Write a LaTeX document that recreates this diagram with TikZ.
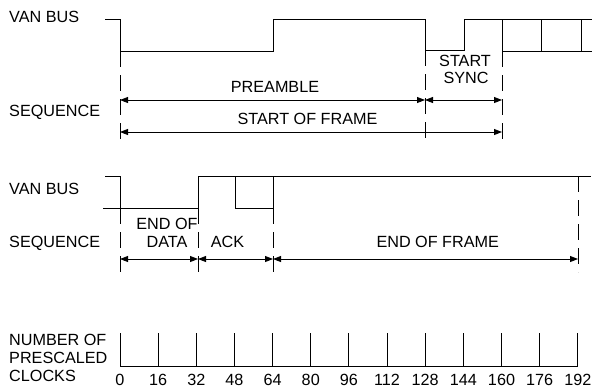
\documentclass[tikz,border=0pt]{standalone}
\usepackage{fontspec}
\setmainfont{Liberation Sans}
\usetikzlibrary{arrows.meta}
\begin{document}
\begin{tikzpicture}[x=1pt,y=-1pt,
  sig/.style={line width=0.9pt, line join=miter},
  guide/.style={line width=0.9pt, dash pattern=on 16pt off 8pt},
  dim/.style={line width=0.9pt, {Triangle[length=8pt,width=6pt]}-{Triangle[length=8pt,width=6pt]}},
  lbl/.style={inner sep=0pt, font=\fontsize{16.2}{18}\selectfont, anchor=base},
  lbll/.style={lbl, anchor=base west}]
\useasboundingbox (0,0) rectangle (596,389);

% ---------- top section ----------
\node[lbll] (vb1) at (9,22.7) {VAN BUS};
\node[lbll] (sq1) at (9,116.5) {SEQUENCE};

\coordinate (a0) at (120,51);  \coordinate (a0b) at (120,142);
\coordinate (a128) at (425,50); \coordinate (a128b) at (425,142);
\coordinate (a160) at (502,51); \coordinate (a160b) at (502,142);

\draw[sig] (105,19) -- (120,19) -- (a0) -- (273,51) -- (273,19) -- (425,19)
  -- (a128) -- (464,50) -- (464,19) -- (592,19);
\draw[sig] (502,19) -- (a160) -- (592,51);
\draw[sig] (541.5,19) -- (541.5,51);
\draw[sig] (581.5,19) -- (581.5,51);

\draw[guide] (a0) -- (a0b);
\draw[guide] (a128) -- (a128b);
\draw[guide] (a160) -- (a160b);

\coordinate (p0) at (120,100); \coordinate (p128) at (425,100); \coordinate (p160) at (502,100);
\coordinate (f0) at (120,132); \coordinate (f160) at (502,132);
\draw[dim] (p0) -- (p128);
\draw[dim] (p128) -- (p160);
\draw[dim] (f0) -- (f160);

\node[lbl] (pre) at (275,92.7) {PREAMBLE};
\node[lbl] (sof) at (307.5,124.3) {START OF FRAME};
\node[lbl] (ss1) at (465,66.7) {START};
\node[lbl] (ss2) at (466,83.3) {SYNC};

% ---------- middle section ----------
\node[lbll] (vb2) at (9,194.3) {VAN BUS};
\node[lbll] (sq2) at (9,247.3) {SEQUENCE};

\coordinate (b0) at (120,208);  \coordinate (b0b) at (120,272);
\coordinate (b32) at (198,208); \coordinate (b32b) at (198,272);
\coordinate (b64) at (273,208); \coordinate (b64b) at (273,272);
\coordinate (b192) at (578,176); \coordinate (b192b) at (578,272);

\draw[sig] (105,176) -- (120,176) -- (b0);
\draw[sig] (103,208) -- (b32) -- (198,176) -- (591,176);
\draw[sig] (235,176) -- (235,208) -- (b64) -- (273,176);

\draw[guide] (b0) -- (b0b);
\draw[guide] (b32) -- (b32b);
\draw[guide] (b64) -- (b64b);
\draw[guide] (b192) -- (b192b);

\coordinate (q0) at (120,259); \coordinate (q32) at (198,259);
\coordinate (q64) at (273,259); \coordinate (q192) at (578,259);
\draw[dim] (q0) -- (q32);
\draw[dim] (q32) -- (q64);
\draw[dim] (q64) -- (q192);

\node[lbl] (eod1) at (167,229.3) {END OF};
\node[lbl] (eod2) at (167,247.3) {DATA};
\node[lbl] (ack) at (227.5,247.3) {ACK};
\node[lbl] (eof) at (437.7,247.3) {END OF FRAME};

% ---------- clock scale ----------
\node[lbll] (nc1) at (9,345) {NUMBER OF};
\node[lbll] (nc2) at (9,363.3) {PRESCALED};
\node[lbll] (nc3) at (9,381.7) {CLOCKS};

\draw[sig] (120,366) -- (577.8,366);
\foreach \n in {0,16,...,192} {
  \pgfmathsetmacro\xx{120+\n*2.3844}
  \draw[sig] (\xx,333) -- (\xx,366);
  \node[lbl] (c\n) at (\xx,385.8) {\n};
}
\end{tikzpicture}
\end{document}
